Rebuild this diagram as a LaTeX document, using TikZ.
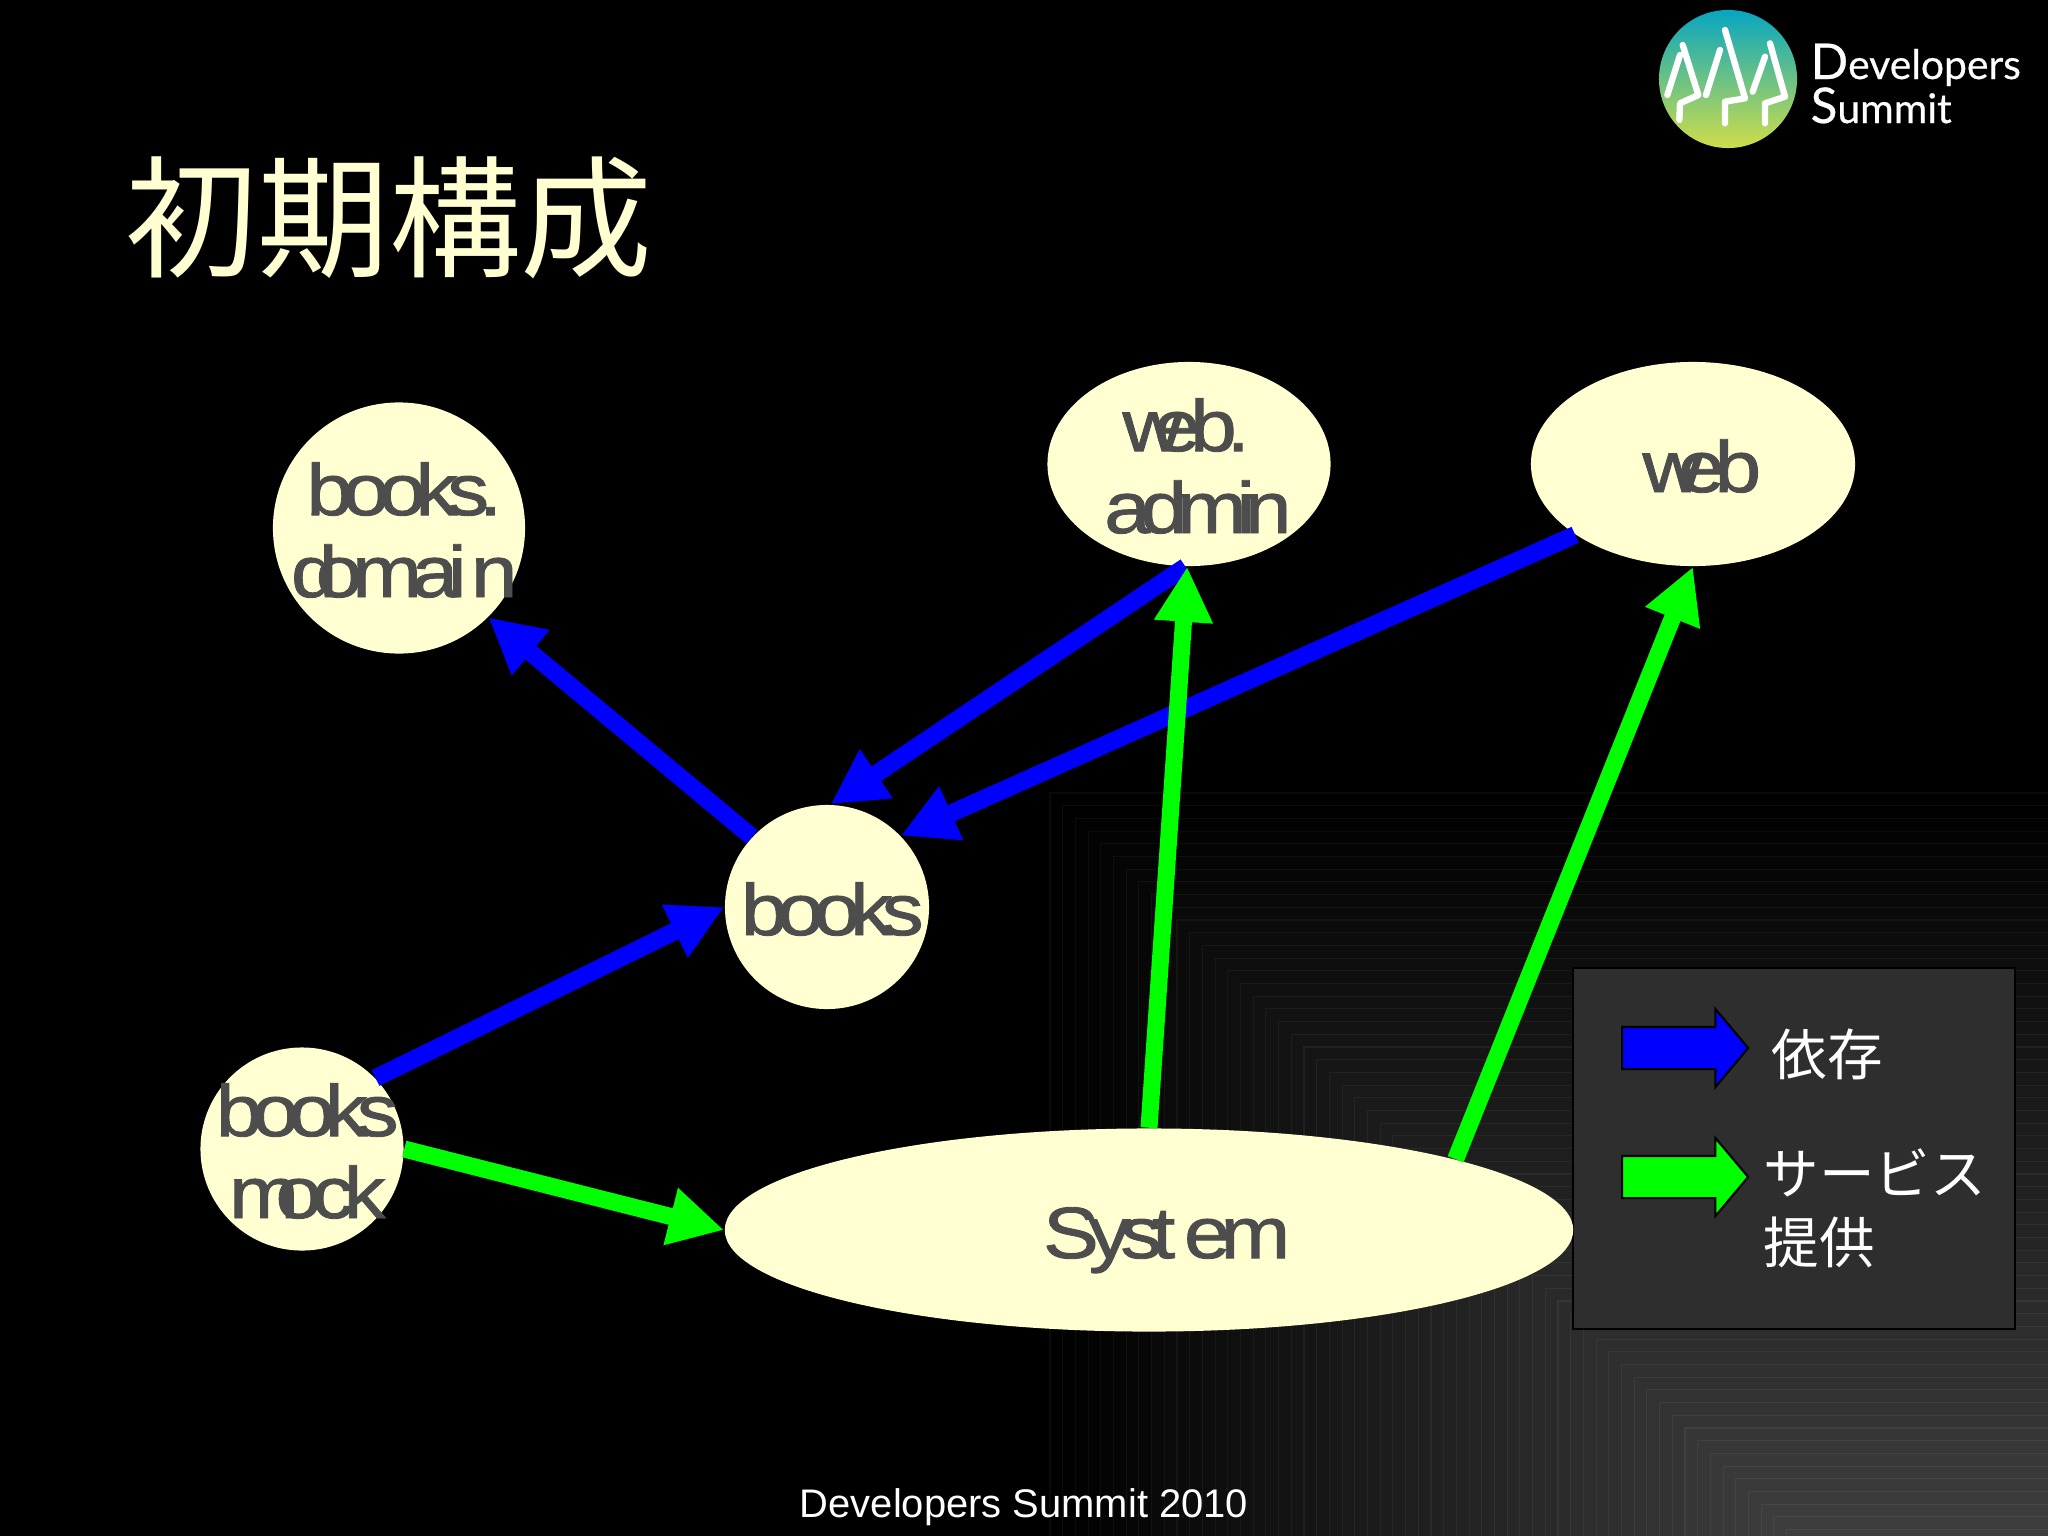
\documentclass[tikz,border=0pt]{standalone}
\usepackage{fontspec}
\usepackage{xcolor}
\usepackage{tikz}
\usetikzlibrary{arrows.meta,shapes.geometric,shapes.arrows}
\setmainfont{Liberation Sans}
\newfontfamily\nodefont[FakeStretch=1.15,FakeBold=1.2,LetterSpace=-14]{Liberation Sans}
\newfontfamily\logofont[FakeBold=0.5]{Lato}
\newfontfamily\cjkfont{Noto Sans CJK JP}
\definecolor{cream}{HTML}{FFFFD2}
\definecolor{nodetext}{HTML}{4D4D4D}
\definecolor{depblue}{HTML}{0000FF}
\definecolor{servgreen}{HTML}{00FF00}
\definecolor{legendgray}{HTML}{2E2E2E}
\definecolor{logotop}{HTML}{07A6C1}
\definecolor{logobot}{HTML}{CFDD4A}
\newcommand{\boxtext}[2][3pt]{\makebox[0pt]{\hspace*{#1}\raisebox{-8.5pt}[0pt][0pt]{\begin{tabular}{@{}c@{}}#2\end{tabular}}}}

\begin{document}
\begin{tikzpicture}[
   x=0.01cm,y=-0.01cm,
   state/.style={ellipse,fill=cream,text=nodetext,inner sep=0pt,
      font=\nodefont\fontsize{20.7pt}{23.3pt}\selectfont},
   dep/.style={-{Triangle[length=5.5mm,width=5.5mm]},line width=1.75mm,depblue},
   serv/.style={-{Triangle[length=5.5mm,width=5.5mm]},line width=1.7mm,servgreen},
   keyarrow/.style={single arrow,draw=black,line width=.6pt,inner sep=2mm,minimum height=1.26cm,
      single arrow head extend=1.8mm,single arrow tip angle=100,anchor=west},
   keytext/.style={text=white,align=left,anchor=west,
      font=\cjkfont\fontsize{15.8pt}{19.7pt}\selectfont},
   peak/.style={white,line width=1.8pt,line join=round,line cap=round}]
\useasboundingbox (0,0) rectangle (2048,1536);
\fill[black] (0,0) rectangle (2048,1536);
% stepped backdrop
\foreach \i in {0,...,58} {
  \pgfmathsetmacro{\gr}{\i*0.42}
  \pgfmathsetmacro{\ln}{\i*0.42+4}
  \filldraw[fill=white!\gr!black,draw=white!\ln!black,line width=.3pt]
     (1050+12.7*\i,793+12.7*\i) rectangle (2060,1550);
}
% title and footer
\node[text=cream,font=\cjkfont\fontsize{37.5pt}{40pt}\selectfont] (title) at (389,218) {初期構成};
\node[text=white,font=\fontsize{11.35pt}{13pt}\selectfont] (footer) at (1024,1507) {Developers Summit 2010};
% logo
\node[circle,minimum size=1.38cm,inner sep=0pt,top color=logotop,bottom color=logobot] (logo) at (1728,79) {};
\begin{scope}[shift={(1630,0)},scale=1/3]
\draw[peak] (112,285) -- (150,165);
\draw[peak] (158,135) -- (205,285) -- (150,310) -- (148,360);
\draw[peak] (228,285) -- (270,150);
\draw[peak] (285,90) -- (345,295) -- (285,305) -- (285,370);
\draw[peak] (368,275) -- (405,170);
\draw[peak] (420,130) -- (465,290) -- (405,310) -- (405,370);
\end{scope}
\node[text=white,anchor=base west,inner sep=0pt,font=\logofont\fontsize{11.6pt}{13pt}\selectfont] (logodev) at (1810,79) {{\fontsize{14pt}{13pt}\selectfont D}evelopers};
\node[text=white,anchor=base west,inner sep=0pt,font=\logofont\fontsize{11.6pt}{13pt}\selectfont] (logosum) at (1810,123) {{\fontsize{14pt}{13pt}\selectfont S}ummit};
% legend
\node[draw=black,fill=legendgray,line width=.6pt,minimum width=4.42cm,minimum height=3.61cm,inner sep=0pt] (legend) at (1794,1148.5) {};
\node[keyarrow,fill=depblue] (keydep) at (1621,1048) {};
\node[keyarrow,fill=servgreen] (keyserv) at (1621,1177) {};
\node[keytext] (textdep) at (1759,1054) {依存};
\node[keytext] (textserv) at (1751,1208) {サービス\\提供};
% boxes
\node[state,minimum width=2.52cm,minimum height=2.51cm] (domain) at (399,528) {\boxtext{books.\\d\kern-.3em omai\kern.06em n}};
\node[state,minimum width=2.83cm,minimum height=2.04cm] (admin) at (1189,464) {\boxtext[5pt]{w\kern-.4em eb.\kern.32em\\admin}};
\node[state,minimum width=3.24cm,minimum height=2.04cm] (web) at (1693,464) {\boxtext[5pt]{w\kern-.34em eb}};
\node[state,minimum width=2.04cm,minimum height=2.04cm] (books) at (827,907) {\boxtext{books}};
\node[state,minimum width=2.03cm,minimum height=2.03cm] (mock) at (302,1149) {\boxtext{books\\m\kern-.32em ock}};
\node[state,minimum width=8.48cm,minimum height=2.03cm] (system) at (1149,1230) {\boxtext[10pt]{Syst\kern.12em em}};
% dependencies
\draw[dep] (books.137) -- (domain.315);
\draw[dep] (admin.268) -- (books.88);
\draw[dep] (web.211) -- (books.44);
\draw[dep] (mock.44) -- (books.180);
% services
\draw[serv] (mock.0) -- (system.180);
\draw[serv] (system.90) -- (admin.269);
\draw[serv] (system.13.7) -- (web.270);
\end{tikzpicture}
\end{document}
